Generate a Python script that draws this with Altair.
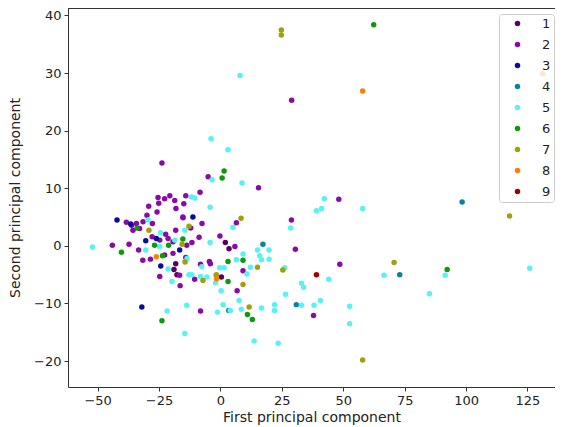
import altair as alt
import pandas as pd

# Class-wise point coordinates (first PC, second PC)
c1_x = [2.0, 3.5, 0.4, -18.2, -18.9, -17.7]
c1_y = [0.6, -0.5, -5.4, -3.1, -4.1, -5.0]

c2_x = [29.0, 48.2, 48.6, 37.9, -5.0, 15.5, -14.1, -8.3, -14.9, -15.3, -7.5, 6.5, -12.1, 28.9,
        -13.7, -11.6, -8.7, -0.2, 5.9, 30.5, -4.5, -4.1, -8.1, -14.1, 9.2, -10.5, -16.6, 6.8,
        -8.1, -31.6, -28.5, -24.7, -16.4, -23.8, -25.4, -22.7, -20.6, -18.6, -25.1, -29.2,
        -18.1, -25.8, -29.9, -15.2, -38.3, -36.2, -34.2, -31.5, -27.7, -35.6, -32.9, -27.8,
        -24.7, -21.3, -19.3, -22.3, -18.2, -33.3, -37.2, -44.0, -22.7, -19.3]
c2_y = [25.3, 8.1, -3.2, -12.1, 12.0, 10.1, 8.7, 9.3, 7.3, 5.0, 3.9, 4.0, 3.1, 4.5,
        0.1, 0.6, 1.5, 1.7, -0.1, -0.6, -2.7, -3.1, -3.2, -2.0, -4.3, -5.8, -5.1, -7.8,
        -11.3, -2.5, -2.3, -5.3, -6.9, 14.4, 8.4, 8.2, 8.7, 7.9, 7.4, 6.9,
        6.5, 5.9, 5.3, 4.9, 4.1, 3.6, 3.9, 4.2, 3.9, 2.7, 3.0, 1.6,
        1.0, 1.3, 0.7, 2.0, 2.7, -0.7, 0.3, 0.1, -1.6, -1.3]

c3_x = [-11.2, -16.6, -24.3, -32.0, -42.1, -36.5, -30.4, -26.1]
c3_y = [5.0, -0.7, -3.5, -10.6, 4.5, 3.8, 0.9, 1.3]

c4_x = [98.4, 73.0, 17.3, 3.4, 30.9]
c4_y = [7.6, -5.0, 0.3, -11.2, -10.2]

c5_x = [8.0, -3.8, 42.3, 39.1, 41.2, 57.9, 125.9, 66.6, 91.5, 44.1, 33.0, 33.9, 85.1, 33.0,
        38.1, 40.7, 52.6, 52.6, 3.1, -3.4, 8.8, -11.8, -10.4, -4.2, 5.1, -14.5, 28.6, -4.2,
        15.1, 19.8, 16.0, 16.7, 19.8, 9.2, 6.5, -7.6, -0.3, 1.5, 12.2, 26.2, -11.6, -8.1,
        -5.5, -1.9, -2.0, 10.8, 0.3, 26.5, -13.7, -1.2, 1.1, 4.0, 7.6, 8.5, 16.7, 22.1,
        22.0, -14.5, 13.7, 23.5, -21.3, -19.7, -12.8, -21.7, -29.5, -24.4, -24.7, -18.6,
        -30.4, -52.1, -13.6]
c5_y = [29.6, 18.6, 8.2, 6.1, 6.5, 6.5, -3.9, -5.1, -5.1, -5.8, -6.5, -7.2, -8.3, -10.3,
        -10.3, -9.5, -10.5, -13.5, 16.7, 11.5, 10.9, 8.5, 8.3, 6.7, 3.2, 2.7, 3.1, 0.6,
        -0.7, -0.7, -1.7, -2.4, -2.3, -1.4, -2.4, -3.6, -3.8, -3.8, -3.7, -3.8, -5.0, -5.3,
        -5.4, -5.1, -6.4, -4.9, -7.8, -8.4, -10.3, -11.5, -10.2, -11.2, -9.5, -11.0, -10.8, -10.2,
        -11.2, -15.2, -16.5, -16.9, -4.0, -6.2, -5.0, -11.3, 4.5, 2.3, -0.1, 1.0,
        -0.7, -0.2, -2.2]

c6_x = [62.4, 92.3, 1.5, 0.7, -15.3, 3.1, 9.2, 3.1, 11.0, 13.0, -23.8, -33.9, -26.8, -21.1, -40.3, -23.6]
c6_y = [38.4, -4.1, 13.0, 11.8, 1.2, -2.7, -2.5, -6.2, -11.9, -12.8, -13.0, 3.1, 0.1, 0.1, -1.1, -1.7]

c7_x = [24.8, 24.8, 117.7, 70.7, 57.9, 8.4, -12.8, -15.6, -14.4, 15.1, 25.4, -7.1, -1.6, 9.2, 11.7, -29.1]
c7_y = [37.5, 36.6, 5.2, -2.9, -19.8, 4.8, 3.4, 0.3, -2.8, -3.7, -4.2, -6.0, -5.0, -6.7, -10.6, 2.7]

c8_x = [57.9, 131.1, -1.6, -26.1]
c8_y = [26.9, 29.9, -5.7, -1.9]

c9_x = [39.1]
c9_y = [-5.0]

classes = ["1", "2", "3", "4", "5", "6", "7", "8", "9"]
colors = ["#5c0062", "#8a0aa8", "#0a0aa0", "#0a849c", "#55f3f3", "#0a9a0a", "#a0a00a", "#ff8000", "#a00000"]

xs = [c1_x, c2_x, c3_x, c4_x, c5_x, c6_x, c7_x, c8_x, c9_x]
ys = [c1_y, c2_y, c3_y, c4_y, c5_y, c6_y, c7_y, c8_y, c9_y]

rows = []
for i, (cx, cy) in enumerate(zip(xs, ys)):
    for a, b in zip(cx, cy):
        rows.append({"pc1": a, "pc2": b, "cls": classes[i], "order": i})
df = pd.DataFrame(rows)

font = "DejaVu Sans"
minus = "replace(datum.label, '-', '\u2212')"
W, H = 487, 379

points = alt.Chart(df).mark_circle(size=30, opacity=1).encode(
    x=alt.X("pc1:Q", scale=alt.Scale(domain=[-62.05, 136.2], nice=False, zero=False),
            axis=alt.Axis(values=[-50, -25, 0, 25, 50, 75, 100, 125], title="First principal component",
                          labelExpr=minus)),
    y=alt.Y("pc2:Q", scale=alt.Scale(domain=[-24.5, 41.3], nice=False, zero=False),
            axis=alt.Axis(values=[-20, -10, 0, 10, 20, 30, 40], title="Second principal component",
                          labelExpr=minus)),
    color=alt.Color("cls:N", scale=alt.Scale(domain=classes, range=colors), title=None,
                    legend=alt.Legend(orient="none", legendX=431, legendY=6,
                                      fillColor="rgba(255,255,255,0.8)",
                                      strokeColor="#cccccc", cornerRadius=3, padding=3,
                                      symbolSize=30, symbolType="circle", symbolOffset=9,
                                      rowPadding=7, labelFontSize=13, labelOffset=18, labelFont=font,
                                      labelColor="#222222", symbolStrokeWidth=0)),
    order=alt.Order("order:Q"),
)

# top spine of the frame (right spine falls outside the picture in the reference)
top_spine = alt.Chart(df).mark_rule(color="#333333", strokeWidth=1).encode(
    x=alt.value(0), x2=alt.value(W), y=alt.value(0.5)
).transform_filter("datum.order == 0 && datum.pc1 == 2.0")

chart = alt.layer(points, top_spine).properties(
    width=W, height=H,
    autosize=alt.AutoSizeParams(type="none"),
    padding={"left": 60, "top": 0, "right": 0, "bottom": 40},
).configure_view(
    stroke=None
).configure_axis(
    grid=False, domain=True, domainColor="#333333", domainWidth=1, tickColor="#333333", tickSize=4,
    labelFont=font, titleFont=font,
    labelFontSize=13, titleFontSize=14, labelColor="#222222", titleColor="#222222",
    titleFontWeight="normal", labelPadding=3
).configure_axisX(titlePadding=3).configure_axisY(titlePadding=11)

chart.save("out.html", embed_options={"renderer": "svg", "actions": False})
